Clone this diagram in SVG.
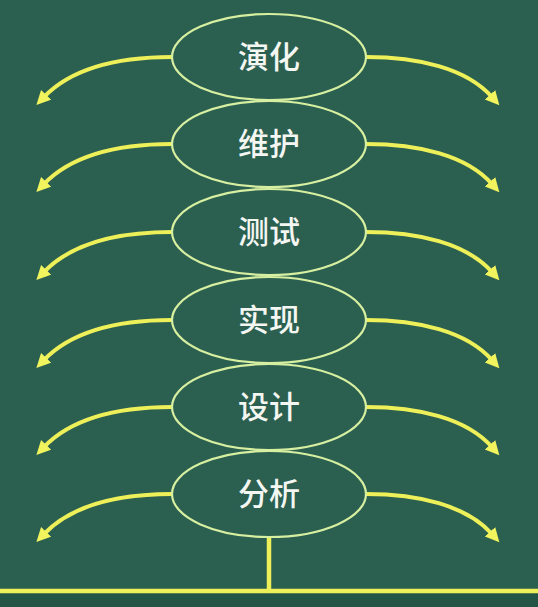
<svg xmlns="http://www.w3.org/2000/svg" width="538" height="607" viewBox="0 0 538 607">
<style>
.node ellipse{fill:none;stroke:#d6efa0;stroke-width:2.2}
.node text{font-family:"Noto Sans CJK SC","Noto Sans",sans-serif;font-size:31px;font-weight:500;fill:#f4f6f2;text-anchor:middle}
.arr{fill:none;stroke:#eef05a;stroke-width:4;marker-end:url(#ah)}
.bar{stroke:#eef05a;stroke-width:4.5}
</style>
<defs>
<marker id="ah" markerUnits="userSpaceOnUse" markerWidth="16" markerHeight="16" refX="3" refY="7" orient="auto">
<path d="M0,0 L14,7 L0,14 z" fill="#f2f45e"/>
</marker>
</defs>
<rect width="538" height="607" fill="#2b5f50"/>
<rect y="593" width="538" height="14" fill="#245446"/>
<g id="connectors">
<path class="arr" d="M172,57 C120,57 72,68 44,97"/>
<path class="arr" d="M366,57 C418,57 466,68 492,97"/>
<path class="arr" d="M172,144 C120,144 72,155 44,184"/>
<path class="arr" d="M366,144 C418,144 466,155 492,184"/>
<path class="arr" d="M172,232 C120,232 72,243 44,272"/>
<path class="arr" d="M366,232 C418,232 466,243 492,272"/>
<path class="arr" d="M172,320 C120,320 72,331 44,360"/>
<path class="arr" d="M366,320 C418,320 466,331 492,360"/>
<path class="arr" d="M172,407 C120,407 72,418 44,447"/>
<path class="arr" d="M366,407 C418,407 466,418 492,447"/>
<path class="arr" d="M172,494 C120,494 72,505 44,534"/>
<path class="arr" d="M366,494 C418,494 466,505 492,534"/>
<line class="bar" x1="269" y1="537" x2="269" y2="591"/>
<line class="bar" x1="0" y1="591" x2="538" y2="591"/>
</g>
<g id="n1" class="node"><ellipse cx="269" cy="57" rx="97" ry="43"/><text x="269" y="68">演化</text></g>
<g id="n2" class="node"><ellipse cx="269" cy="144" rx="97" ry="43"/><text x="269" y="155">维护</text></g>
<g id="n3" class="node"><ellipse cx="269" cy="232" rx="97" ry="43"/><text x="269" y="243">测试</text></g>
<g id="n4" class="node"><ellipse cx="269" cy="320" rx="97" ry="43"/><text x="269" y="331">实现</text></g>
<g id="n5" class="node"><ellipse cx="269" cy="407" rx="97" ry="43"/><text x="269" y="418">设计</text></g>
<g id="n6" class="node"><ellipse cx="269" cy="494" rx="97" ry="43"/><text x="269" y="505">分析</text></g>
</svg>
